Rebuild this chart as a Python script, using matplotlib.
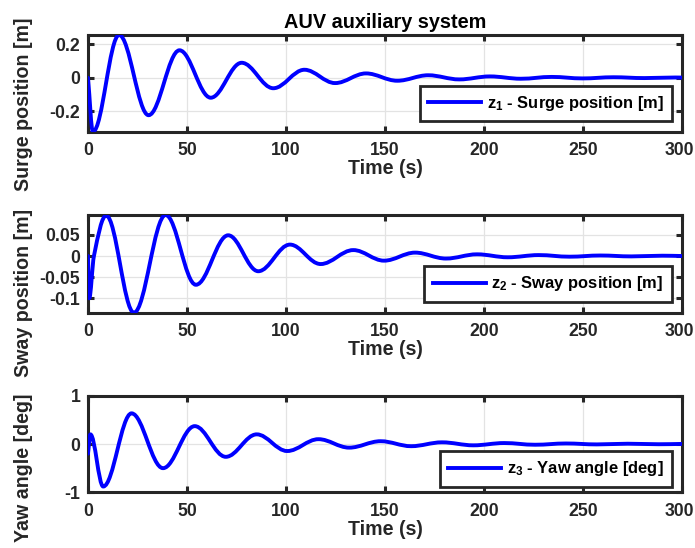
import matplotlib
matplotlib.use("Agg")
import matplotlib.pyplot as plt
from matplotlib.lines import Line2D
from matplotlib.patches import PathPatch
from matplotlib.path import Path
from matplotlib.transforms import ScaledTranslation

plt.rcParams["font.family"] = ["Liberation Sans", "DejaVu Sans"]
plt.rcParams["font.weight"] = "bold"
plt.rcParams["axes.unicode_minus"] = False
plt.rcParams["mathtext.fontset"] = "custom"
plt.rcParams["mathtext.rm"] = "Liberation Sans:bold"
plt.rcParams["mathtext.it"] = "Liberation Sans:bold"
plt.rcParams["mathtext.bf"] = "Liberation Sans:bold"

# turning points (time in s, value)
surge_t = [0.0, 2.5, 15.7, 30.6, 46.2, 62.0, 77.6, 93.6, 109.3, 124.8, 140.4, 156.2,
           171.8, 187.5, 203.0, 218.6, 234.2, 249.8, 265.4, 281.0, 296.6, 300.0]
surge_v = [0.0, -0.324, 0.257, -0.225, 0.165, -0.12, 0.09, -0.063, 0.048, -0.032, 0.026,
           -0.018, 0.015, -0.010, 0.008, -0.006, 0.005, -0.004, 0.003, -0.002, 0.0015, 0.001]

sway_t = [0.0, 0.6, 3.0, 9.2, 23.2, 39.2, 54.5, 70.8, 86.0, 102.0, 117.5, 134.0, 149.5,
          165.2, 180.8, 196.5, 212.0, 227.6, 243.2, 258.8, 274.4, 290.0, 300.0]
sway_v = [0.0, -0.1, 0.0, 0.0955, -0.134, 0.097, -0.068, 0.049, -0.036, 0.027, -0.019,
          0.014, -0.011, 0.008, -0.006, 0.004, -0.003, 0.0022, -0.0016, 0.0012, -0.0009,
          0.0007, 0.0]

yaw_t = [0.0, 1.2, 7.7, 22.0, 37.9, 53.9, 69.6, 85.2, 100.6, 116.4, 131.9, 147.8, 163.2,
         178.8, 194.6, 210.2, 225.8, 241.4, 257.0, 272.6, 288.2, 300.0]
yaw_v = [-0.2, 0.2, -0.88, 0.635, -0.5, 0.37, -0.265, 0.2, -0.145, 0.1, -0.075, 0.058,
         -0.045, 0.035, -0.027, 0.02, -0.015, 0.011, -0.008, 0.006, -0.0045, 0.002]

surge_ticks = [-0.2, 0, 0.2]
surge_ticklabels = ["-0.2", "0", "0.2"]
sway_ticks = [-0.1, -0.05, 0, 0.05]
sway_ticklabels = ["-0.1", "-0.05", "0", "0.05"]
yaw_ticks = [-1, 0, 1]
yaw_ticklabels = ["-1", "0", "1"]
time_ticks = [0, 50, 100, 150, 200, 250, 300]

LINE_BLUE = "#0000ff"
AX_DARK = "#262626"


def smooth_path(times, values, k=0.3634):
    # cubic segments between the read points, flat at turning points
    n = len(times)
    slopes = []
    for i in range(n):
        if i == 0:
            s = (values[1] - values[0]) / (times[1] - times[0])
        elif i == n - 1:
            s = (values[-1] - values[-2]) / (times[-1] - times[-2])
        elif (values[i] - values[i - 1]) * (values[i + 1] - values[i]) <= 0:
            s = 0.0
        else:
            s = (values[i + 1] - values[i - 1]) / (times[i + 1] - times[i - 1])
        slopes.append(s)
    verts = [(times[0], values[0])]
    codes = [Path.MOVETO]
    for i in range(1, n):
        t0, v0, t1, v1 = times[i - 1], values[i - 1], times[i], values[i]
        d = t1 - t0
        verts += [(t0 + k * d, v0 + slopes[i - 1] * k * d),
                  (t1 - k * d, v1 - slopes[i] * k * d),
                  (t1, v1)]
        codes += [Path.CURVE4] * 3
    return Path(verts, codes)


def style_axis(fig, ax, ticks, ticklabels, ylim):
    ax.set_xlim(0, 300)
    ax.set_ylim(*ylim)
    ax.set_xticks(time_ticks)
    ax.set_yticks(ticks)
    ax.set_yticklabels(ticklabels)
    ax.grid(True, color="#e3e3e3", linewidth=0.9)
    ax.set_axisbelow(True)
    for sp in ax.spines.values():
        sp.set_linewidth(2.2)
        sp.set_color(AX_DARK)
    ax.tick_params(axis="both", direction="in", length=4, width=2.2, color=AX_DARK,
                   labelcolor=AX_DARK, labelsize=12.7, top=True, right=True)
    ax.tick_params(axis="x", pad=7.5)
    ax.tick_params(axis="y", pad=5.5)
    # keep the last time label inside the canvas
    last = ax.get_xticklabels()[-1]
    last.set_transform(last.get_transform() + ScaledTranslation(-2.5 / 100, 0, fig.dpi_scale_trans))
    ax.set_xlabel("Time (s)", fontsize=14.1, fontweight="bold", color=AX_DARK, labelpad=0)


fig = plt.figure(figsize=(6.95, 5.48), dpi=100)

panels = [
    ([0.1266, 0.7597, 0.8547, 0.1765], surge_t, surge_v, surge_ticks, surge_ticklabels,
     (-0.324, 0.257), "Surge position [m]", r"z$_{1}$ - Surge position [m]", 0.281, (0.983, 0.106)),
    ([0.1266, 0.4294, 0.8547, 0.1783], sway_t, sway_v, sway_ticks, sway_ticklabels,
     (-0.134, 0.097), "Sway position [m]", r"z$_{2}$ - Sway position [m]", 0.2016, (0.983, 0.113)),
    ([0.1266, 0.1016, 0.8547, 0.1763], yaw_t, yaw_v, yaw_ticks, yaw_ticklabels,
     (-1, 1), "Yaw angle [deg]", r"z$_{3}$ - Yaw angle [deg]", 0.2516, (0.983, 0.058)),
]

axes = []
for rect, t, v, ticks, ticklabels, ylim, ylabel, leg_label, ylab_y, leg_anchor in panels:
    ax = fig.add_axes(rect)
    style_axis(fig, ax, ticks, ticklabels, ylim)
    ax.add_patch(PathPatch(smooth_path(t, v), facecolor="none", edgecolor=LINE_BLUE,
                           linewidth=2.8, capstyle="round", joinstyle="round", zorder=3))
    ax.set_ylabel(ylabel, fontsize=14.1, fontweight="bold", color=AX_DARK)
    ax.yaxis.set_label_coords(-0.0918, ylab_y)
    proxy = Line2D([], [], color=LINE_BLUE, linewidth=2.8)
    leg = ax.legend([proxy], [leg_label], loc="lower right", bbox_to_anchor=leg_anchor,
                    borderaxespad=0, fancybox=False, framealpha=1, edgecolor=AX_DARK,
                    fontsize=11.9, handlelength=3.2, handletextpad=0.35, borderpad=0.5)
    leg.get_frame().set_linewidth(2.0)
    axes.append(ax)

axes[0].set_title("AUV auxiliary system", fontsize=14.3, fontweight="bold", color="black", pad=5)

fig.savefig("out.png", dpi=100)
